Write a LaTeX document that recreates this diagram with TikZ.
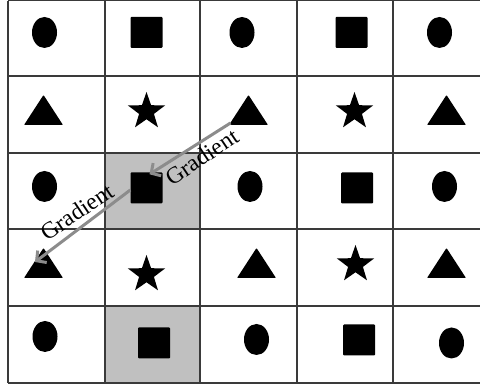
\documentclass[tikz,border=0pt]{standalone}
\usepackage{fontspec}
\setmainfont{Liberation Serif}
\usetikzlibrary{shapes.geometric,arrows.meta,calc}
\definecolor{cellgray}{HTML}{C0C0C0}
\definecolor{arrowgray}{HTML}{8C8C8C}
\definecolor{gridline}{HTML}{3A3A3A}
\tikzset{
  oval/.style={ellipse,fill=black,inner sep=0pt,minimum width=25pt,minimum height=31pt},
  sq/.style={rectangle,fill=black,inner sep=0pt,minimum width=32pt,minimum height=31pt,rounded corners=1pt},
  tri/.pic={\fill[black,rounded corners=0.8pt] (0,-15) -- (19.5,15) -- (-19.5,15) -- cycle;},
  starshape/.style={star,star points=5,star point ratio=2.5,fill=black,inner sep=0pt,minimum size=39pt},
  gridstroke/.style={draw=gridline,line width=1.3pt},
  gradarrow/.style={draw=arrowgray,line width=3pt,-{Straight Barb[length=7pt,width=15pt]}},
  gradlabel/.style={font=\rmfamily\fontsize{23.5}{23.5}\selectfont,inner sep=1pt}
}
\begin{document}
\begin{tikzpicture}[x=1pt,y=-1pt]
\useasboundingbox (0,0) rectangle (480,390);
% gray cells
\fill[cellgray] (105,153) rectangle (200,229);
\fill[cellgray] (105,306) rectangle (200,383);
% grid
\foreach \gx in {8,105,200,297,393}{\draw[gridstroke] (\gx,0.8) -- (\gx,383);}
\foreach \gy in {0.8,76,153,229,306,383}{\draw[gridstroke] (8,\gy) -- (480,\gy);}
% row 1
\node[oval] (c11) at (44.5,32.5) {};
\node[sq] (s12) at (146.5,32.5) {};
\node[oval] (c13) at (242,32.5) {};
\node[sq] (s14) at (351.5,32.5) {};
\node[oval] (c15) at (439.5,32.5) {};
% row 2
\path (43.5,110) coordinate (t21) pic {tri};
\node[starshape] (st22) at (146.5,111.5) {};
\path (248.5,110) coordinate (t23) pic {tri};
\node[starshape] (st24) at (354.5,111.5) {};
\path (446.5,110) coordinate (t25) pic {tri};
% row 3
\node[oval] (c31) at (44.5,186.5) {};
\node[sq] (s32) at (146.5,188) {};
\node[oval] (c33) at (250,186.5) {};
\node[sq] (s34) at (357,188) {};
\node[oval] (c35) at (444.5,186.5) {};
% row 4
\path (43.5,263) coordinate (t41) pic {tri};
\node[starshape] (st42) at (146.5,274.5) {};
\path (256.5,263) coordinate (t43) pic {tri};
\node[starshape] (st44) at (355.5,264.5) {};
\path (446.5,263) coordinate (t45) pic {tri};
% row 5
\node[oval] (c51) at (45,336.5) {};
\node[sq] (s52) at (154,343) {};
\node[oval] (c53) at (256.5,339.5) {};
\node[sq] (s54) at (359,340) {};
\node[oval] (c55) at (451.5,343) {};
% gradient arrows
\coordinate (g1s) at ($(t23)+(-18,13)$);
\coordinate (g1e) at ($(s32.north)+(3,2)$);
\draw[gradarrow] (g1s) -- (g1e);
\node[gradlabel,rotate=34] (lab1) at (202,157) {Gradient};
\coordinate (g2s) at ($(s32.west)+(0,2)$);
\coordinate (g2e) at ($(t41)+(-8.5,-1)$);
\draw[gradarrow] (g2s) -- (g2e);
\node[gradlabel,rotate=34] (lab2) at (77,212) {Gradient};
\end{tikzpicture}
\end{document}
